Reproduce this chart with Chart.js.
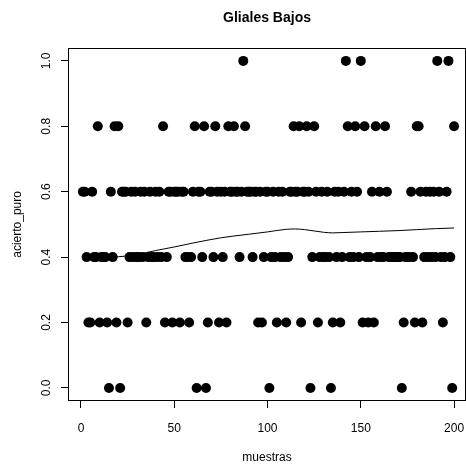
<!DOCTYPE html>
<html>
<head>
<meta charset="utf-8">
<script src="https://cdn.jsdelivr.net/npm/chart.js@4.4.1/dist/chart.umd.min.js"></script>
<style>
  html, body { margin: 0; padding: 0; background: #fff; }
  #wrap { width: 466px; height: 466px; }
</style>
</head>
<body>
<div id="wrap"><canvas id="c" width="466" height="466"></canvas></div>
<script>
/* acierto_puro for muestras 1..200 */
const acierto = [
  0.6, 0.6, 0.4, 0.2, 0.2, 0.6, 0.4, 0.4, 0.8, 0.2,
  0.4, 0.4, 0.4, 0.2, 0.0, 0.6, 0.4, 0.8, 0.2, 0.8,
  0.0, 0.6, 0.6, 0.6, 0.2, 0.4, 0.6, 0.4, 0.6, 0.4,
  0.4, 0.6, 0.4, 0.6, 0.2, 0.4, 0.6, 0.4, 0.4, 0.6,
  0.4, 0.6, 0.4, 0.8, 0.2, 0.4, 0.6, 0.6, 0.2, 0.6,
  0.6, 0.6, 0.2, 0.6, 0.6, 0.4, 0.4, 0.2, 0.4, 0.6,
  0.8, 0.0, 0.6, 0.6, 0.4, 0.8, 0.0, 0.2, 0.6, 0.6,
  0.4, 0.8, 0.6, 0.2, 0.6, 0.4, 0.6, 0.2, 0.8, 0.6,
  0.6, 0.8, 0.6, 0.6, 0.4, 0.6, 1.0, 0.8, 0.6, 0.6,
  0.6, 0.4, 0.6, 0.6, 0.2, 0.6, 0.2, 0.4, 0.6, 0.6,
  0.0, 0.4, 0.6, 0.4, 0.2, 0.6, 0.4, 0.6, 0.4, 0.2,
  0.4, 0.6, 0.6, 0.8, 0.6, 0.6, 0.8, 0.2, 0.6, 0.6,
  0.8, 0.6, 0.0, 0.4, 0.8, 0.6, 0.2, 0.4, 0.6, 0.4,
  0.4, 0.6, 0.4, 0.0, 0.2, 0.6, 0.4, 0.6, 0.2, 0.4,
  0.6, 1.0, 0.8, 0.4, 0.6, 0.4, 0.8, 0.6, 0.4, 1.0,
  0.2, 0.8, 0.4, 0.2, 0.4, 0.6, 0.2, 0.8, 0.4, 0.6,
  0.4, 0.4, 0.8, 0.6, 0.4, 0.4, 0.4, 0.4, 0.4, 0.4,
  0.4, 0.0, 0.2, 0.4, 0.4, 0.4, 0.6, 0.4, 0.2, 0.8,
  0.8, 0.6, 0.2, 0.4, 0.6, 0.4, 0.6, 0.4, 0.6, 0.4,
  1.0, 0.6, 0.4, 0.2, 0.4, 0.6, 1.0, 0.4, 0.0, 0.8
];

/* smoothed curve */
const curvaX = [1, 10, 20, 30, 40, 50, 60, 75, 90, 100, 110, 115, 120, 125, 130, 135, 140, 150, 160, 170, 180, 190, 200];
const curvaY = [0.400, 0.400, 0.401, 0.408, 0.420, 0.431, 0.443, 0.459, 0.470, 0.477, 0.485, 0.486, 0.484, 0.480, 0.476, 0.474, 0.475, 0.477, 0.479, 0.481, 0.484, 0.487, 0.489];

const xTicks = [0, 50, 100, 150, 200];
const yTicks = [0, 0.2, 0.4, 0.6, 0.8, 1.0];

const titulo = "Gliales Bajos";
const xTitulo = "muestras";
const yTitulo = "acierto_puro";

const FONT = "'Liberation Sans', Arial, sans-serif";

/* R style frame around the plotting region (kept inside the canvas) */
const boxPlugin = {
    id: "box",
    afterDraw(chart) {
        const {ctx, chartArea: a} = chart;
        const l = Math.round(a.left) + 0.5, t = Math.round(a.top) + 0.5;
        const r = Math.min(Math.round(a.right), chart.width) - 0.5;
        const b = Math.round(a.bottom) - 0.5;
        ctx.save();
        ctx.strokeStyle = "#000";
        ctx.lineWidth = 1;
        ctx.strokeRect(l, t, r - l, b - t);
        ctx.restore();
    }
};

const puntos = acierto.map((v, i) => ({x: i + 1, y: v}));
const curva = curvaX.map((x, i) => ({x: x, y: curvaY[i]}));

new Chart(document.getElementById("c"), {
    type: "scatter",
    data: {
        datasets: [
            {
                data: puntos,
                pointRadius: 5,
                pointHoverRadius: 5,
                pointBackgroundColor: "#000",
                pointBorderWidth: 0,
                showLine: false
            },
            {
                data: curva,
                showLine: true,
                borderColor: "#000",
                borderWidth: 1,
                pointRadius: 0,
                cubicInterpolationMode: "monotone"
            }
        ]
    },
    options: {
        responsive: false,
        animation: false,
        events: [],
        layout: {autoPadding: false, padding: 0},
        plugins: {
            legend: {display: false},
            tooltip: {enabled: false},
            title: {
                display: true,
                fullSize: false,
                text: titulo,
                color: "#000",
                font: {family: FONT, size: 14, weight: "bold"},
                padding: {top: 10, bottom: 21}
            }
        },
        scales: {
            x: {
                type: "linear",
                min: -6.96,
                max: 206.4,
                afterBuildTicks: s => { s.ticks = xTicks.map(v => ({value: v})); },
                afterFit: s => { s.height = 65; s.paddingLeft = 0; s.paddingRight = 0; },
                border: {display: false},
                grid: {drawOnChartArea: false, drawTicks: true, tickLength: 7, color: "#000", tickColor: "#000"},
                ticks: {color: "#000", font: {family: FONT, size: 12}, padding: 13, maxRotation: 0},
                title: {display: true, text: xTitulo, color: "#000", font: {family: FONT, size: 12}, padding: {top: 0, bottom: 1}}
            },
            y: {
                type: "linear",
                min: -0.04,
                max: 1.04,
                afterBuildTicks: s => { s.ticks = yTicks.map(v => ({value: v})); },
                afterFit: s => { s.width = 68; s.paddingTop = 0; s.paddingBottom = 0; },
                border: {display: false},
                grid: {drawOnChartArea: false, drawTicks: true, tickLength: 7, color: "#000", tickColor: "#000"},
                ticks: {
                    color: "#000",
                    font: {family: FONT, size: 12},
                    padding: 6,
                    minRotation: 90,
                    maxRotation: 90,
                    crossAlign: "center",
                    callback: v => v.toFixed(1)
                },
                title: {display: true, text: yTitulo, color: "#000", font: {family: FONT, size: 12}, padding: {top: 10, bottom: 0}}
            }
        }
    },
    plugins: [boxPlugin]
});
</script>
</body>
</html>
